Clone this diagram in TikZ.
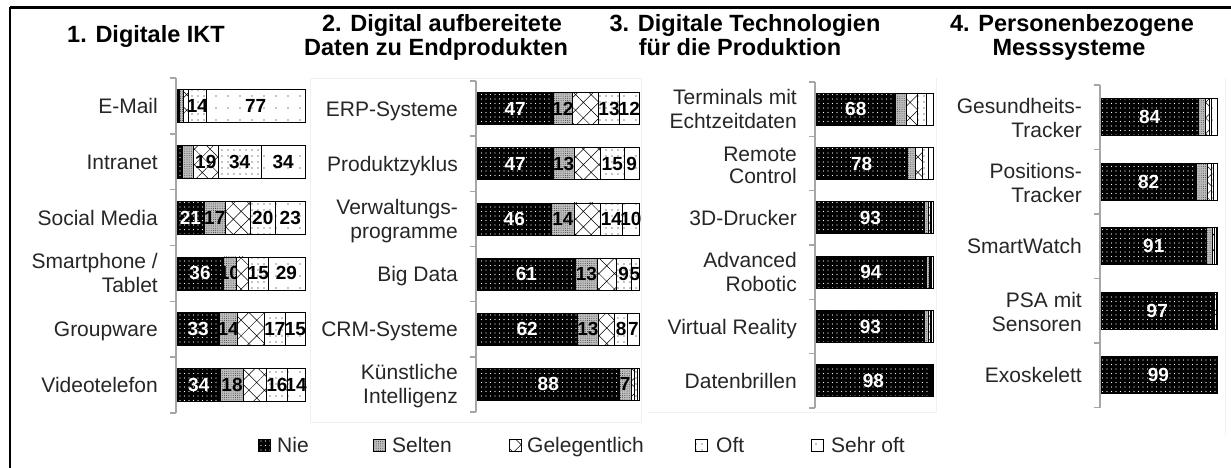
\documentclass[tikz,border=0pt]{standalone}
\usepackage{fontspec}
\setmainfont{Liberation Sans}
\usetikzlibrary{patterns,patterns.meta}
\tikzset{
  segbase/.style={draw=black, line width=0.7pt},
  seg1/.style={segbase, preaction={fill=black}, preaction={pattern={Dots[distance=4.5pt,radius=0.6pt]}, pattern color=white}},
  seg2/.style={segbase, preaction={fill=gray!50}, preaction={pattern={Dots[distance=2.2pt,radius=0.5pt]}, pattern color=black!75}},
  seg3/.style={segbase, preaction={fill=white}, preaction={pattern={Hatch[angle=45,distance=11pt,line width=0.5pt]}, pattern color=black}},
  seg4/.style={segbase, preaction={fill=white}, preaction={pattern={Dots[distance=6pt,radius=0.7pt]}, pattern color=black}},
  seg5/.style={segbase, preaction={fill=white}, preaction={pattern={Dots[distance=12pt,radius=0.7pt]}, pattern color=black}},
  num/.style={font=\fontsize{19}{19}\selectfont\bfseries, inner sep=0pt},
  num1/.style={num, text=white},
  num2/.style={num, text=black},
  num3/.style={num, text=black},
  num4/.style={num, text=black},
  num5/.style={num, text=black},
  cat/.style={font=\fontsize{21}{24}\selectfont, anchor=base east, inner sep=0pt, text=black!85},
  ttl/.style={font=\fontsize{23.5}{24}\selectfont\bfseries, anchor=base, inner sep=0pt},
  axisline/.style={draw=gray!70, line width=1.4pt},
  leg/.style={font=\fontsize{21}{24}\selectfont, anchor=base west, inner sep=0pt, text=black!85},
  legicon/.style={line width=0.5pt},
  faint/.style={draw=gray!12, line width=0.8pt},
  frame/.style={draw=black, line width=2.2pt}
}
% #1 id, #2 x0, #3 width, #4 y centre, #5 height, #6 list value/label
\newcommand\stackbar[6]{%
  \gdef\sbacc{0}%
  \foreach \v/\l [count=\i] in {#6} {%
    \pgfmathsetmacro\sbs{\sbacc}%
    \pgfmathsetmacro\sbe{\sbacc+\v}%
    \pgfmathsetmacro\sbxa{#2+#3*(\sbs/100)}%
    \pgfmathsetmacro\sbxb{#2+#3*(\sbe/100)}%
    \pgfmathsetmacro\sbxm{(\sbxa+\sbxb)/2}%
    \pgfmathsetmacro\sbya{#4-#5/2}%
    \pgfmathsetmacro\sbyb{#4+#5/2}%
    \path[style/.expanded=seg\i] (\sbxa,\sbya) rectangle (\sbxb,\sbyb);
    \ifx\l\empty\else
      \node[style/.expanded=num\i] (#1-\i) at (\sbxm,#4) {\l};
    \fi
    \global\let\sbacc\sbe
  }%
}
% axis: #1 x, #2 y top, #3 y bottom, #4 number of categories
\newcommand\catAxis[4]{%
  \draw[axisline] (#1,#2) -- (#1,#3);
  \foreach \k in {0,...,#4} {
    \pgfmathsetmacro\cay{#2+(#3-#2)*(\k/#4)}
    \draw[axisline] ({#1-6},\cay) -- (#1,\cay);
  }
}
\begin{document}
\begin{tikzpicture}[x=1pt,y=-1pt]
\useasboundingbox (0,0) rectangle (1231,468);
\fill[white] (0,0) rectangle (1231,468);
% frame (top and left)
\draw[frame] (10,7.5) -- (1231,7.5);
\draw[frame] (10,7.5) -- (10,468);
% faint chart-area borders
\draw[faint] (310,78) rectangle (641,422);
\draw[faint] (648,412) -- (936,412) -- (936,78);
\draw[faint] (1225,78) -- (1225,435);

% titles
\node[ttl] (t1) at (146,43) {1. Digitale IKT};
\node[ttl] (t2a) at (442,32) {2. Digital aufbereitete};
\node[ttl] (t2b) at (436,56) {Daten zu Endprodukten};
\node[ttl] (t3a) at (745,32) {3. Digitale Technologien};
\node[ttl] (t3b) at (740,56) {für die Produktion};
\node[ttl] (t4a) at (1072,32) {4. Personenbezogene};
\node[ttl] (t4b) at (1069,56) {Messsysteme};

% ---------- Panel 1 ----------
\catAxis{176}{78}{413}{6}
\node[cat] (a1) at (158,105.92+7.5) {E-Mail};
\node[cat] (a2) at (158,161.75+7.5) {Intranet};
\node[cat] (a3) at (158,217.58+7.5) {Social Media};
\node[cat] (a4a) at (158,273.42-4.5) {Smartphone /};
\node[cat] (a4b) at (158,273.42+19.5) {Tablet};
\node[cat] (a5) at (158,329.25+7.5) {Groupware};
\node[cat] (a6) at (158,385.08+7.5) {Videotelefon};
\stackbar{b11}{177}{128}{105.92}{33}{2/,3/,4/,14/14,77/77}
\stackbar{b12}{177}{128}{161.75}{33}{4/,9/,19/19,34/34,34/34}
\stackbar{b13}{177}{128}{217.58}{33}{21/21,17/17,19/,20/20,23/23}
\stackbar{b14}{177}{128}{273.42}{33}{36/36,10/10,10/,15/15,29/29}
\stackbar{b15}{177}{128}{329.25}{33}{33/33,14/14,21/,17/17,15/15}
\stackbar{b16}{177}{128}{385.08}{33}{34/34,18/18,18/,16/16,14/14}

% ---------- Panel 2 ----------
\catAxis{476}{81}{412}{6}
\node[cat] (c1) at (458,108.58+7.5) {ERP-Systeme};
\node[cat] (c2) at (458,163.75+7.5) {Produktzyklus};
\node[cat] (c3a) at (458,218.92-4.5) {Verwaltungs-};
\node[cat] (c3b) at (458,218.92+19.5) {programme};
\node[cat] (c4) at (458,274.08+7.5) {Big Data};
\node[cat] (c5) at (458,329.25+7.5) {CRM-Systeme};
\node[cat] (c6a) at (458,384.42-4.5) {Künstliche};
\node[cat] (c6b) at (458,384.42+19.5) {Intelligenz};
\stackbar{b21}{477}{162}{108.58}{32}{47/47,12/12,16/,13/13,12/12}
\stackbar{b22}{477}{162}{163.75}{32}{47/47,13/13,16/,15/15,9/9}
\stackbar{b23}{477}{162}{218.92}{32}{46/46,14/14,16/,14/14,10/10}
\stackbar{b24}{477}{162}{274.08}{32}{61/61,13/13,12/,9/9,5/5}
\stackbar{b25}{477}{162}{329.25}{32}{62/62,13/13,10/,8/8,7/7}
\stackbar{b26}{477}{162}{384.42}{32}{88/88,7/7,2/,2/,1/}

% ---------- Panel 3 ----------
\catAxis{815}{82}{408}{6}
\node[cat] (d1a) at (797,109.17-4.5) {Terminals mit};
\node[cat] (d1b) at (797,109.17+19.5) {Echtzeitdaten};
\node[cat] (d2a) at (797,163.5-2.5) {Remote};
\node[cat] (d2b) at (797,163.5+19.5) {Control};
\node[cat] (d3) at (797,217.83+7.5) {3D-Drucker};
\node[cat] (d4a) at (797,272.17-4.5) {Advanced};
\node[cat] (d4b) at (797,272.17+19.5) {Robotic};
\node[cat] (d5) at (797,326.5+7.5) {Virtual Reality};
\node[cat] (d6) at (797,380.83+7.5) {Datenbrillen};
\stackbar{b31}{816}{117}{109.17}{32}{68/68,9/,10/,7/,6/}
\stackbar{b32}{816}{117}{163.5}{32}{78/78,7/,6/,5/,4/}
\stackbar{b33}{816}{117}{217.83}{32}{93/93,3/,2/,1/,1/}
\stackbar{b34}{816}{117}{272.17}{32}{94/94,3/,1/,1/,1/}
\stackbar{b35}{816}{117}{326.5}{32}{93/93,3/,2/,1/,1/}
\stackbar{b36}{816}{117}{380.83}{32}{98/98,1/,0.5/,0.3/,0.2/}

% ---------- Panel 4 ----------
\catAxis{1100}{85}{407.5}{5}
\node[cat] (e1a) at (1082,117.25-3.5) {Gesundheits-};
\node[cat] (e1b) at (1082,117.25+20.5) {Tracker};
\node[cat] (e2a) at (1082,181.75-3.5) {Positions-};
\node[cat] (e2b) at (1082,181.75+20.5) {Tracker};
\node[cat] (e3) at (1082,246.25+7.5) {SmartWatch};
\node[cat] (e4a) at (1082,310.75-3.5) {PSA mit};
\node[cat] (e4b) at (1082,310.75+20.5) {Sensoren};
\node[cat] (e5) at (1082,375.25+7.5) {Exoskelett};
\stackbar{b41}{1101}{116}{117.25}{37}{84/84,6/,3/,2/,5/}
\stackbar{b42}{1101}{116}{181.75}{37}{82/82,10/,3/,2/,3/}
\stackbar{b43}{1101}{116}{246.25}{37}{91/91,5/,2/,1/,1/}
\stackbar{b44}{1101}{116}{310.75}{37}{97/97,1/,1/,0.5/,0.5/}
\stackbar{b45}{1101}{116}{375.25}{37}{99/99,0.4/,0.3/,0.2/,0.1/}

% ---------- Legend ----------
\path[seg1,legicon] (258,439.5) rectangle (270,451.5);
\node[leg] (l1) at (277,452.5) {Nie};
\path[seg2,legicon] (373,439.5) rectangle (385,451.5);
\node[leg] (l2) at (392,452.5) {Selten};
\path[seg3,legicon] (509,439.5) rectangle (521,451.5);
\node[leg] (l3) at (527,452.5) {Gelegentlich};
\path[seg4,legicon] (695,439.5) rectangle (707,451.5);
\node[leg] (l4) at (716,452.5) {Oft};
\path[seg5,legicon] (811,439.5) rectangle (823,451.5);
\node[leg] (l5) at (831,452.5) {Sehr oft};
\end{tikzpicture}
\end{document}
